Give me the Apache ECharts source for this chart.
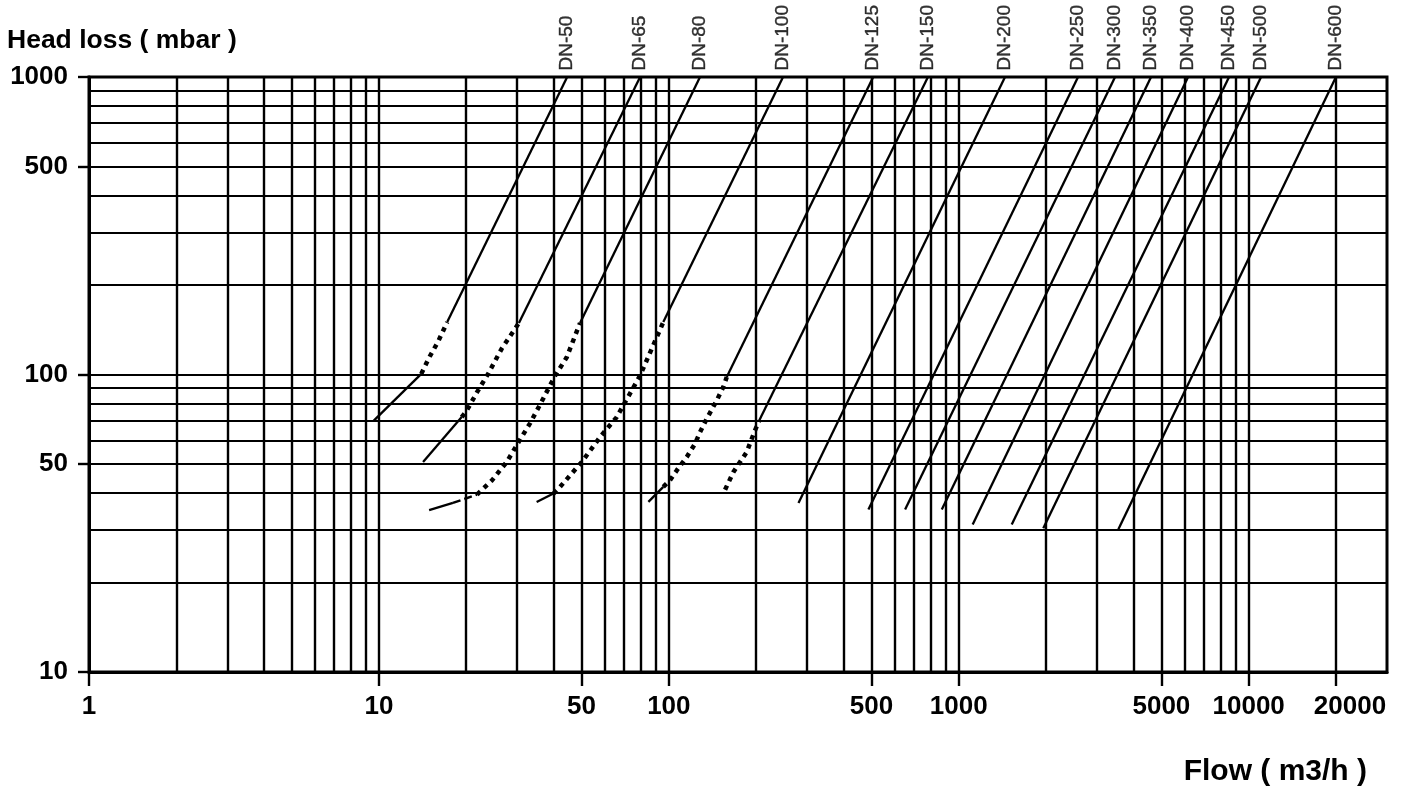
<!DOCTYPE html>
<html>
<head>
<meta charset="utf-8">
<script src="https://cdn.jsdelivr.net/npm/echarts@6/dist/echarts.min.js"></script>
<style>
html,body{margin:0;padding:0;background:#fff;}
#chart{width:1408px;height:792px;}
</style>
</head>
<body>
<div id="chart"></div>
<script>
// ---------- DATA ----------
const DN_NAMES = ['DN-50','DN-65','DN-80','DN-100','DN-125','DN-150','DN-200','DN-250','DN-300','DN-350','DN-400','DN-450','DN-500','DN-600'];
// flow (m3/h) where each curve reaches 1000 mbar
const DN_TOP_FLOW = [44.6, 79.6, 128.1, 247.7, 507, 783, 1444, 2579, 3461, 4606, 6180, 8558, 11035, 20000];
const TOP_HEAD = 1000;
// lower end (flow, mbar) of the solid straight upper part of each curve
const UPPER_START = [[17.2,150],[30.4,149],[49.4,149],[95.7,150],[158.4,98],[205,70],[280,37],[488,35.2],[653,35.2],[874,35.2],[1117,31.3],[1523,31.3],[1957,30.4],[3553,30.2]];

// dotted (transition) parts
const dn50Dotted  = [[14.0,100.5],[14.9,114],[16.0,129],[17.2,150]];
const dn65Dotted  = [[19.3,71.9],[20.1,75.7],[21.8,87.2],[23.8,100.5],[26.5,122],[30.4,149]];
const dn80Dotted  = [[21.8,39.5],[24.5,44],[27.6,50.8],[30.7,60.5],[33.2,68.5],[36.4,81],[40.5,99],[44.4,114],[49.4,149]];
const dn100Dotted = [[40.0,39.8],[41.6,41.3],[50.1,50.8],[57.9,61.6],[66.1,71.9],[79.6,99.2],[95.7,150]];
const dn125Dotted = [[95.7,41.9],[100.9,44.1],[106.5,47.6],[115.3,52.8],[123.1,58.5],[128.1,64],[135.1,71],[146.3,81.8],[154.1,90.7],[158.4,98]];
const dn150Dotted = [[156.3,41],[167,47],[176,50.8],[185.6,54.9],[193.2,60.8],[198.3,64.9],[205,70]];
// dashed part
const dn80Dashed  = [[18.0,37],[21.8,39.5]];
// solid lower tails
const dn50Tail  = [[9.6,70],[14.0,100.5]];
const dn65Tail  = [[14.2,50.8],[19.3,71.9]];
const dn80Tail  = [[14.9,35],[18.0,37]];
const dn100Tail = [[35.0,37.3],[40.0,39.8]];
const dn125Tail = [[85.0,37.3],[95.7,41.9]];

// axes
const X_LABELS = [1,10,50,100,500,1000,5000,10000,20000];
const Y_LABELS = [10,50,100,500,1000];
const X_GRID = [2,3,4,5,6,7,8,9,10,20,30,40,50,60,70,80,90,100,200,300,400,500,600,700,800,900,1000,2000,3000,4000,5000,6000,7000,8000,9000,10000,20000];
const Y_GRID = [20,30,40,50,60,70,80,90,100,200,300,400,500,600,700,800,900];
const X_MIN = 1, X_MAX = 30000, Y_MIN = 10, Y_MAX = 1000;

// ---------- CHART ----------
const FONT = "'Liberation Sans', Arial, Helvetica, sans-serif";
const chart = echarts.init(document.getElementById('chart'), null, {renderer:'canvas'});

const series = [];
// grid lines
series.push({
  type:'line', data:[], silent:true, z:1,
  markLine:{
    silent:true, symbol:['none','none'], animation:false,
    label:{show:false},
    lineStyle:{color:'#000', width:2.4, type:'solid'},
    emphasis:{disabled:true},
    data:[
      ...X_GRID.map(v => ({xAxis:v})),
      ...Y_GRID.map(v => ({yAxis:v, lineStyle:{color:'#000', width:2, type:'solid'}}))
    ]
  }
});

function lineSeries(data, type, width){
  return {
    type:'line', data:data, symbol:'none', z:5, silent:true, animation:false,
    lineStyle:{color:'#000', width:width, type:type, cap:'butt'}
  };
}
// upper straight parts
DN_NAMES.forEach((n,i) => {
  series.push(lineSeries([UPPER_START[i], [DN_TOP_FLOW[i], TOP_HEAD]], 'solid', 2.3));
});
[dn50Dotted, dn65Dotted, dn80Dotted, dn100Dotted, dn125Dotted, dn150Dotted].forEach(d => {
  series.push(lineSeries(d, [4.5,5], 4.5));
});
series.push(lineSeries(dn80Dashed, [8,4], 2.4));
[dn50Tail, dn65Tail, dn80Tail, dn100Tail, dn125Tail].forEach(d => {
  series.push(lineSeries(d, 'solid', 2.3));
});
// DN labels at the top end of each curve
series.push({
  type:'scatter', z:6, silent:true, clip:false, animation:false,
  symbolSize:1, itemStyle:{color:'rgba(0,0,0,0)'},
  data: DN_NAMES.map((n,i) => ({name:n, value:[DN_TOP_FLOW[i], TOP_HEAD]})),
  label:{
    show:true, position:'top', distance:6, rotate:90,
    align:'left', verticalAlign:'middle',
    formatter: p => p.name,
    color:'#000', fontSize:19, fontFamily:FONT,
    textBorderColor:'#000', textBorderWidth:0.4
  }
});

const axisLabelStyle = {color:'#000', fontSize:26, fontWeight:'bold', fontFamily:FONT};

chart.setOption({
  animation:false,
  backgroundColor:'#fff',
  title:[
    {text:'Head loss ( mbar )', left:7, top:27, padding:0,
     textStyle:{color:'#000', fontSize:26.5, fontWeight:'bold', fontFamily:FONT}},
    {text:'Flow ( m3/h )', right:41, top:757, padding:0,
     textStyle:{color:'#000', fontSize:30, fontWeight:'bold', fontFamily:FONT}}
  ],
  grid:{left:89, right:21, top:77, bottom:120, show:true, borderColor:'#000', borderWidth:3, backgroundColor:'#fff'},
  xAxis:{
    type:'log', logBase:10, min:X_MIN, max:X_MAX,
    axisLine:{show:true, onZero:false, lineStyle:{color:'#000', width:3}},
    axisTick:{show:true, inside:false, length:14, customValues:X_LABELS, lineStyle:{color:'#000', width:2.4}},
    axisLabel:{show:true, margin:22, customValues:X_LABELS, ...axisLabelStyle,
      formatter: v => { const r = Math.round(v); return r === 20000 ? '{r|' + r + '}' : String(r); },
      rich:{r:{...axisLabelStyle, padding:[0,0,0,28]}}
    },
    splitLine:{show:false}, minorTick:{show:false}, minorSplitLine:{show:false}
  },
  yAxis:{
    type:'log', logBase:10, min:Y_MIN, max:Y_MAX,
    axisLine:{show:true, onZero:false, lineStyle:{color:'#000', width:3}},
    axisTick:{show:true, inside:false, length:11, customValues:Y_LABELS, lineStyle:{color:'#000', width:2.4}},
    axisLabel:{show:true, margin:21, customValues:Y_LABELS, ...axisLabelStyle,
      formatter: v => String(Math.round(v))},
    splitLine:{show:false}, minorTick:{show:false}, minorSplitLine:{show:false}
  },
  series: series
});
</script>
</body>
</html>
